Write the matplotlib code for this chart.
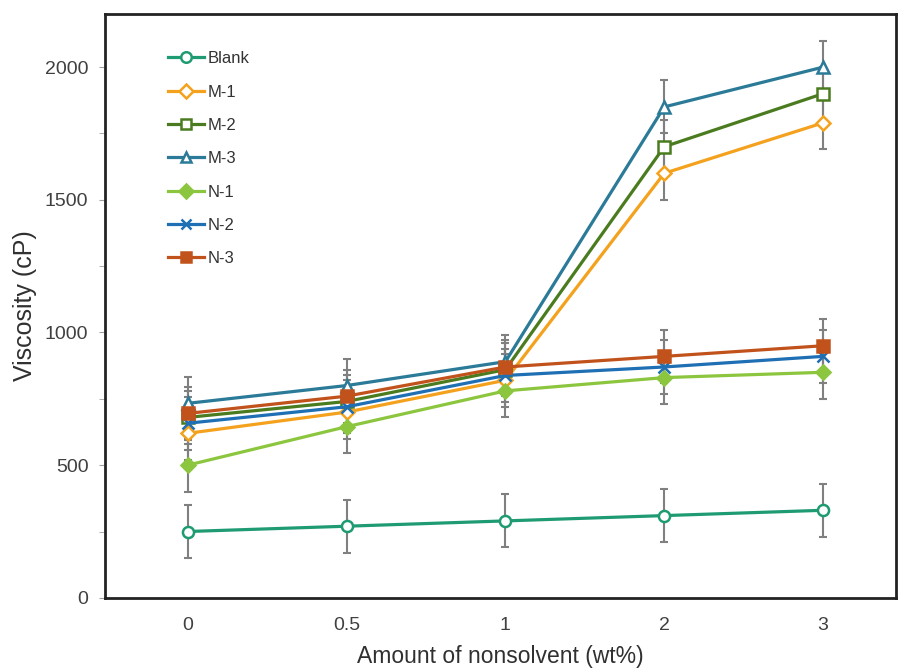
import matplotlib
matplotlib.use("Agg")
import matplotlib.pyplot as plt
from matplotlib.ticker import MultipleLocator

plt.rcParams['font.family'] = ['Liberation Sans', 'DejaVu Sans']

# categories on the x axis (equally spaced)
x_labels = ["0", "0.5", "1", "2", "3"]

blank = [250, 270, 290, 310, 330]
m1 = [620, 700, 820, 1600, 1790]
m2 = [680, 740, 860, 1700, 1900]
m3 = [733, 800, 890, 1850, 2000]
n1 = [500, 645, 780, 830, 850]
n2 = [658, 720, 838, 870, 910]
n3 = [695, 760, 870, 910, 950]
err = 100

series = [
    ("Blank", blank, "#1f9b73", "o", "white"),
    ("M-1", m1, "#f4a21e", "D", "white"),
    ("M-2", m2, "#4a7c1f", "s", "white"),
    ("M-3", m3, "#2b7a98", "^", "white"),
    ("N-1", n1, "#8cc63e", "D", None),
    ("N-2", n2, "#1e6fb4", "x", None),
    ("N-3", n3, "#c2521b", "s", None),
]

fig = plt.figure(figsize=(8.98, 6.68), dpi=100)
ax = fig.add_axes([0.117, 0.105, 0.881, 0.874])

xs = list(range(len(x_labels)))
for name, vals, col, mk, face in series:
    ax.errorbar(xs, vals, yerr=err, fmt='none', ecolor='#808080',
                elinewidth=1.5, capsize=3, capthick=1.5, zorder=1)
for name, vals, col, mk, face in series:
    fc = face if face else col
    ms = 7 if mk == "D" else 8
    ax.plot(xs, vals, color=col, lw=2.3, marker=mk, markersize=ms,
            markerfacecolor=fc, markeredgecolor=col, markeredgewidth=1.8,
            label=name, zorder=3)

ax.set_xlim(-0.52, 4.46)
ax.set_ylim(0, 2200)
ax.set_xticks(xs)
ax.set_xticklabels(x_labels)
ax.yaxis.set_major_locator(MultipleLocator(500))
ax.yaxis.set_minor_locator(MultipleLocator(250))
ax.tick_params(axis='x', length=0, labelsize=14, colors='#404040', pad=14)
ax.tick_params(axis='y', which='both', direction='out', length=4,
               color='#a0a0a0', labelsize=14, labelcolor='#404040', pad=8)
for sp in ax.spines.values():
    sp.set_linewidth(2.0)
    sp.set_color('#222222')

ax.set_xlabel("Amount of nonsolvent (wt%)", fontsize=16.5, color='#303030',
              labelpad=8)
ax.set_ylabel("Viscosity (cP)", fontsize=18, color='#303030', labelpad=6)

leg = ax.legend(loc='upper left', bbox_to_anchor=(0.06, 0.962), frameon=False,
                fontsize=12, handlelength=2.2, handletextpad=0.2,
                labelspacing=1.1, markerscale=0.95)
for t in leg.get_texts():
    t.set_color('#333333')

fig.savefig("out.png", dpi=100)
